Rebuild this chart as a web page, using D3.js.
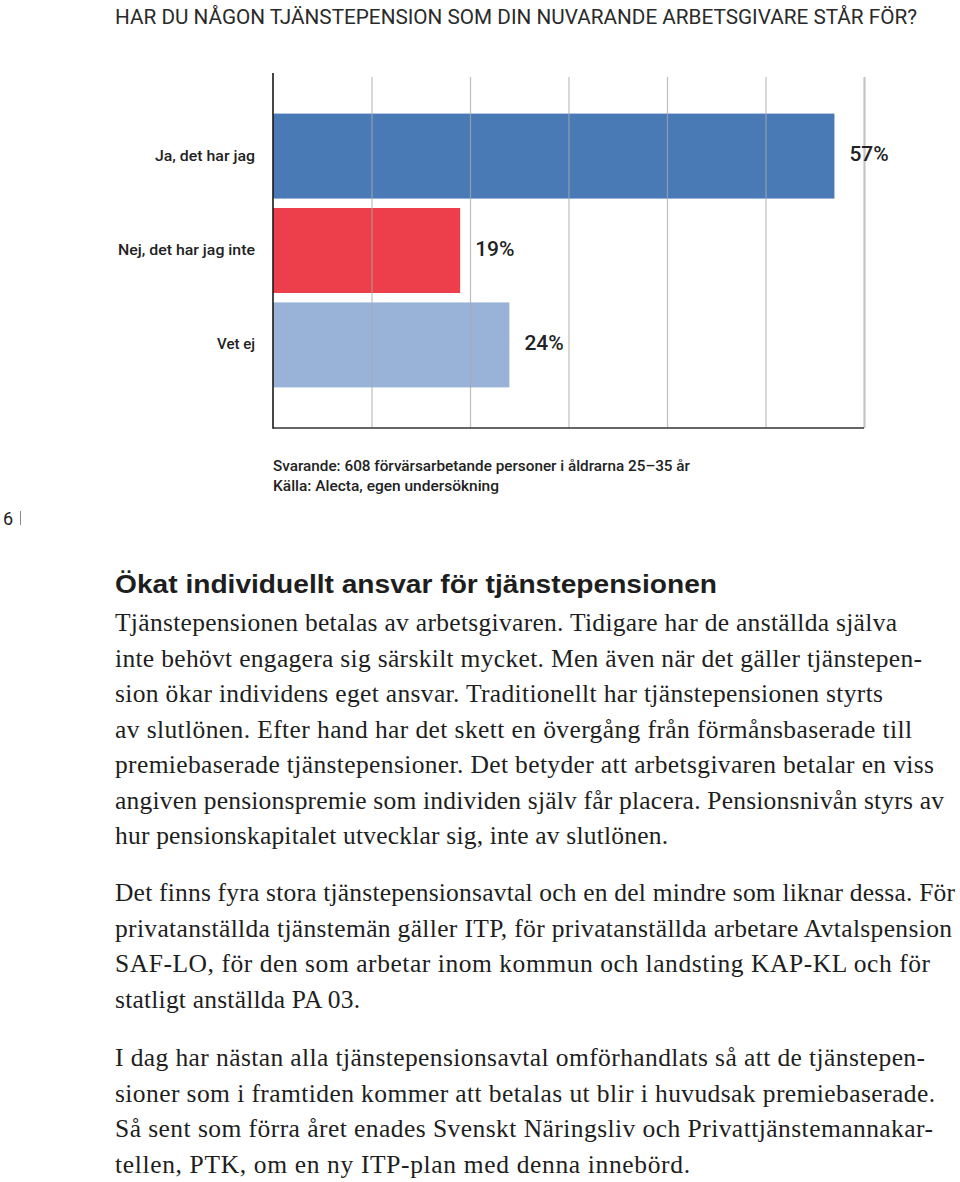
<!DOCTYPE html>
<html><head><meta charset="utf-8">
<script src="https://cdn.jsdelivr.net/npm/d3@7"></script>
<style>
html,body{margin:0;padding:0;background:#fff;}
svg{display:block;}
</style></head>
<body>
<svg id="c" width="960" height="1182"></svg>
<script>
// ---- data ----
const categories = ["Ja, det har jag", "Nej, det har jag inte", "Vet ej"];
const values = [57, 19, 24];
const gridTicks = [10, 20, 30, 40, 50, 60];
const valueLabels = ["57%", "19%", "24%"];
const title = "HAR DU NÅGON TJÄNSTEPENSION SOM DIN NUVARANDE ARBETSGIVARE STÅR FÖR?";
const sourceLines = ["Svarande: 608 förvärsarbetande personer i åldrarna 25–35 år", "Källa: Alecta, egen undersökning"];
const pageNumber = "6";
const heading = "Ökat individuellt ansvar för tjänstepensionen";
const para1 = [
  "Tjänstepensionen betalas av arbetsgivaren. Tidigare har de anställda själva",
  "inte behövt engagera sig särskilt mycket. Men även när det gäller tjänstepen-",
  "sion ökar individens eget ansvar. Traditionellt har tjänstepensionen styrts",
  "av slutlönen. Efter hand har det skett en övergång från förmånsbaserade till",
  "premiebaserade tjänstepensioner. Det betyder att arbetsgivaren betalar en viss",
  "angiven pensionspremie som individen själv får placera. Pensionsnivån styrs av",
  "hur pensionskapitalet utvecklar sig, inte av slutlönen."
];
const para2 = [
  "Det finns fyra stora tjänstepensionsavtal och en del mindre som liknar dessa. För",
  "privatanställda tjänstemän gäller ITP, för privatanställda arbetare Avtalspension",
  "SAF-LO, för den som arbetar inom kommun och landsting KAP-KL och för",
  "statligt anställda PA 03."
];
const para3 = [
  "I dag har nästan alla tjänstepensionsavtal omförhandlats så att de tjänstepen-",
  "sioner som i framtiden kommer att betalas ut blir i huvudsak premiebaserade.",
  "Så sent som förra året enades Svenskt Näringsliv och Privattjänstemannakar-",
  "tellen, PTK, om en ny ITP-plan med denna innebörd."
];

// ---- layout (not data) ----
const barColors = ["#497ab6", "#ed3e4b", "#99b2d8"];
const para1Ends = [897, 922, 883, 912, 934, 944, 668];
const para2Ends = [955, 952, 930, 360];
const para3Ends = [925, 935, 933, 690];
const catWidths = [100, 137, 38];

const svg = d3.select("#c");
svg.append("rect").attr("width", 960).attr("height", 1182).attr("fill", "#fff");

function fitText(sel, targetWidth, adjust) {
  const node = sel.node();
  const w = node.getComputedTextLength();
  if (targetWidth && Math.abs(w - targetWidth) > 0.5) {
    sel.attr("textLength", targetWidth).attr("lengthAdjust", adjust || "spacing");
  }
  return sel;
}

// Title
fitText(svg.append("text")
  .attr("x", 115).attr("y", 24)
  .attr("font-family", "Roboto, Liberation Sans, sans-serif")
  .attr("font-size", 20).attr("fill", "#2a2a2a")
  .text(title), 802, "spacingAndGlyphs");

// ---- chart ----
const x = d3.scaleLinear().domain([0, 60]).range([273, 864]);
const y = d3.scaleBand().domain(categories).range([73, 428]).paddingInner(0.1).paddingOuter(0.43);
const gridTop = 77, axisBottom = 428;

const g = svg.append("g");

g.selectAll("rect.bar").data(values).join("rect")
  .attr("class", "bar")
  .attr("x", x(0))
  .attr("y", (d, i) => y(categories[i]))
  .attr("width", d => x(d) - x(0))
  .attr("height", y.bandwidth())
  .attr("fill", (d, i) => barColors[i]);

// gridlines via axis
const grid = g.append("g")
  .attr("transform", `translate(0,${axisBottom})`)
  .call(d3.axisBottom(x).tickValues(gridTicks).tickSize(-(axisBottom - gridTop)).tickFormat(""));
grid.select(".domain").remove();
grid.selectAll(".tick line")
  .attr("stroke", "#a9a9a9")
  .attr("stroke-opacity", 0.75)
  .attr("stroke-width", 1.2);
grid.selectAll(".tick").filter(d => d === 60).select("line")
  .attr("stroke", "#c4c4c4").attr("stroke-opacity", 1).attr("stroke-width", 2.2);

// axis lines
g.append("line")
  .attr("x1", x(0)).attr("x2", x(60))
  .attr("y1", axisBottom).attr("y2", axisBottom)
  .attr("stroke", "#333").attr("stroke-width", 1.6);
g.append("line")
  .attr("x1", x(0)).attr("x2", x(0))
  .attr("y1", 73).attr("y2", axisBottom + 0.8)
  .attr("stroke", "#1a1a1a").attr("stroke-width", 1.6);

// category labels
g.selectAll("text.cat").data(categories).join("text")
  .attr("class", "cat")
  .attr("x", x(0) - 18)
  .attr("y", d => y(d) + y.bandwidth() / 2)
  .attr("dy", "0.29em")
  .attr("text-anchor", "end")
  .attr("font-family", "Roboto, Liberation Sans, sans-serif")
  .attr("font-weight", 500)
  .attr("font-size", 15.5)
  .attr("fill", "#222")
  .text(d => d)
  .each(function(d, i) { fitText(d3.select(this), catWidths[i], "spacingAndGlyphs"); });

// value labels
g.selectAll("text.val").data(values).join("text")
  .attr("class", "val")
  .attr("x", d => x(d) + 15)
  .attr("y", (d, i) => y(categories[i]) + y.bandwidth() / 2)
  .attr("dy", "0.24em")
  .attr("font-family", "Roboto, Liberation Sans, sans-serif")
  .attr("font-weight", 500)
  .attr("font-size", 21)
  .attr("fill", "#222")
  .text((d, i) => valueLabels[i]);

// source
const srcTargets = [417, 226];
sourceLines.forEach((s, i) => {
  fitText(svg.append("text")
    .attr("x", 273).attr("y", 471 + i * 19.5)
    .attr("font-family", "Roboto, Liberation Sans, sans-serif")
    .attr("font-weight", 500)
    .attr("font-size", 14.5)
    .attr("fill", "#222")
    .text(s), srcTargets[i], "spacingAndGlyphs");
});

// page number
svg.append("text").attr("x", 3).attr("y", 525)
  .attr("font-family", "Roboto, Liberation Sans, sans-serif")
  .attr("font-size", 18).attr("fill", "#222").text(pageNumber);
svg.append("line").attr("x1", 20.5).attr("x2", 20.5).attr("y1", 511).attr("y2", 525)
  .attr("stroke", "#888").attr("stroke-width", 1);

// heading
fitText(svg.append("text")
  .attr("x", 115).attr("y", 593)
  .attr("font-family", "Liberation Sans, Arial, sans-serif")
  .attr("font-weight", "bold")
  .attr("font-size", 26).attr("fill", "#1e1e1e")
  .text(heading), 602, "spacingAndGlyphs");

// body paragraphs
function para(lines, ends, y0) {
  lines.forEach((l, i) => {
    fitText(svg.append("text")
      .attr("x", 115).attr("y", y0 + i * 35.5)
      .attr("font-family", "Liberation Serif, 'Times New Roman', serif")
      .attr("font-size", 25.5).attr("fill", "#1e1e1e")
      .text(l), ends[i] - 115, "spacing");
  });
}
para(para1, para1Ends, 631);
para(para2, para2Ends, 901);
para(para3, para3Ends, 1066);
</script>
</body></html>
